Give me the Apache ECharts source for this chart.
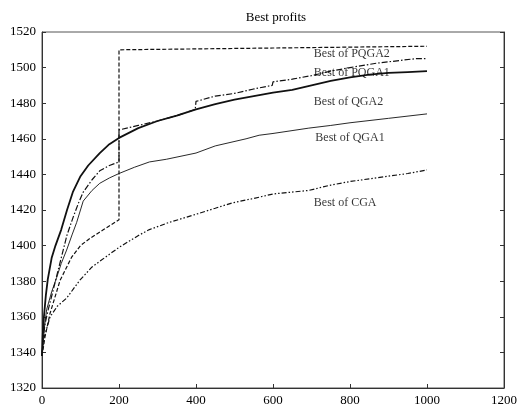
<!DOCTYPE html>
<html>
<head>
<meta charset="utf-8">
<script src="https://cdn.jsdelivr.net/npm/echarts@6/dist/echarts.min.js"></script>
<style>html,body{margin:0;padding:0;background:#fff}#c{width:520px;height:412px}</style>
</head>
<body>
<div id="c"></div>
<script>
// ---- data ----
var titleText = 'Best profits';
var xTicks = [0, 200, 400, 600, 800, 1000, 1200];
var yTicks = [1320, 1340, 1360, 1380, 1400, 1420, 1440, 1460, 1480, 1500, 1520];

var qga2X = [0, 2, 5, 10, 15, 25, 35, 50, 65, 80, 100, 120, 150, 175, 200, 250, 300, 350, 400, 450, 500, 550, 600, 650, 700, 750, 800, 850, 900, 950, 1000];
var qga2Y = [1338, 1350, 1360, 1372, 1381, 1393, 1400, 1409, 1420, 1430, 1439, 1445, 1452, 1457, 1460.5, 1466, 1470, 1473, 1476.5, 1479.5, 1482, 1484, 1486, 1487.5, 1490, 1492.5, 1494.5, 1496, 1497, 1497.5, 1498];

var pqga1X = [0, 3, 8, 15, 29, 51, 65, 81, 95, 107, 130, 150, 175, 200, 200, 250, 300, 350, 398, 400, 450, 500, 550, 598, 600, 650, 700, 750, 800, 870, 930, 970, 1000];
var pqga1Y = [1338, 1348, 1356, 1363, 1375, 1394, 1406, 1416, 1424, 1430, 1437, 1442, 1445, 1447, 1465, 1467.5, 1470, 1473, 1476.5, 1481, 1484, 1485.5, 1488, 1490, 1492, 1493.5, 1495.5, 1498, 1500, 1502.5, 1504, 1505, 1505];

var qga1X = [0, 5, 12, 25, 38, 50, 64, 78, 90, 107, 130, 150, 175, 200, 240, 279, 323, 400, 450, 530, 564, 600, 693, 750, 800, 900, 1000];
var qga1Y = [1338, 1352, 1364, 1374, 1382, 1390, 1397.5, 1406, 1413, 1425, 1431, 1435, 1438, 1440.5, 1444, 1447, 1448.5, 1452, 1456, 1460, 1462, 1463, 1466, 1467.5, 1469, 1471.5, 1474];

var cgaX = [0, 5, 21, 40, 64, 98, 130, 168, 200, 253, 279, 330, 391, 450, 494, 550, 600, 693, 750, 800, 850, 900, 950, 1000];
var cgaY = [1340, 1348, 1360, 1366, 1370.5, 1380.5, 1388, 1394, 1399, 1406, 1409, 1413, 1417, 1421, 1424, 1426.5, 1429, 1431, 1434, 1436, 1437.5, 1439, 1440.5, 1442.5];

var pqga2X = [0, 8, 21, 47, 77, 100, 124, 160, 200, 200, 400, 600, 800, 1000];
var pqga2Y = [1338, 1349, 1362, 1380.5, 1393.5, 1400, 1404, 1409, 1414.5, 1510, 1510.5, 1511, 1511.5, 1512];

var labelNames = ['Best of PQGA2', 'Best of PQGA1', 'Best of QGA2', 'Best of QGA1', 'Best of CGA'];
var labelX = [706, 706, 706, 710, 706];
var labelY = [1507.5, 1497, 1480.7, 1460.4, 1424];

function pairs(xs, ys) { return xs.map(function (x, i) { return [x, ys[i]]; }); }

var FONT = '"Liberation Serif","DejaVu Serif",serif';
var INK = '#111';

var chart = echarts.init(document.getElementById('c'), null, {renderer: 'canvas'});

function lineSeries(name, xs, ys, width, type) {
  return {
    name: name, type: 'line', data: pairs(xs, ys), showSymbol: false, symbol: 'none',
    smooth: false, animation: false, z: 3,
    lineStyle: {color: INK, width: width, type: type}
  };
}

function plain(v) { return String(v); }

var axisCommon = {
  type: 'value',
  axisLine: {show: true, onZero: false, lineStyle: {color: '#333', width: 1}},
  axisTick: {show: true, inside: true, length: 4, lineStyle: {color: '#333'}},
  splitLine: {show: false},
  axisLabel: {color: '#000', fontFamily: FONT, fontSize: 13, formatter: plain}
};

chart.setOption({
  animation: false,
  backgroundColor: '#fff',
  title: {
    text: titleText, left: 271, top: 6, textAlign: 'center',
    textStyle: {fontFamily: FONT, fontSize: 13, fontWeight: 'normal', color: '#000'}
  },
  grid: {left: 42, right: 14, top: 32, bottom: 24, show: true, borderColor: '#555', borderWidth: 1},
  xAxis: [Object.assign({}, axisCommon, {
    min: xTicks[0], max: xTicks[xTicks.length - 1], interval: 200,
    axisLabel: Object.assign({}, axisCommon.axisLabel, {margin: 6})
  })],
  yAxis: [Object.assign({}, axisCommon, {
    min: yTicks[0], max: yTicks[yTicks.length - 1], interval: 20,
    axisLabel: Object.assign({}, axisCommon.axisLabel, {margin: 6})
  }), Object.assign({}, axisCommon, {
    position: 'right',
    min: yTicks[0], max: yTicks[yTicks.length - 1], interval: 20,
    axisLabel: {show: false}
  })],
  series: [
    lineSeries('Best of PQGA2', pqga2X, pqga2Y, 1.2, [4, 2]),
    lineSeries('Best of PQGA1', pqga1X, pqga1Y, 1.2, [6, 2, 1.5, 2]),
    lineSeries('Best of QGA2', qga2X, qga2Y, 1.8, 'solid'),
    lineSeries('Best of QGA1', qga1X, qga1Y, 0.9, 'solid'),
    lineSeries('Best of CGA', cgaX, cgaY, 1.2, [5, 2, 1.5, 2, 1.5, 2]),
    {
      type: 'scatter', symbolSize: 0, animation: false, silent: true, z: 5,
      data: labelNames.map(function (n, i) { return {value: [labelX[i], labelY[i]], name: n}; }),
      label: {
        show: true, position: 'right', distance: 0,
        formatter: function (p) { return p.name; },
        fontFamily: FONT, fontSize: 12, color: '#000'
      }
    }
  ]
});
</script>
</body>
</html>
